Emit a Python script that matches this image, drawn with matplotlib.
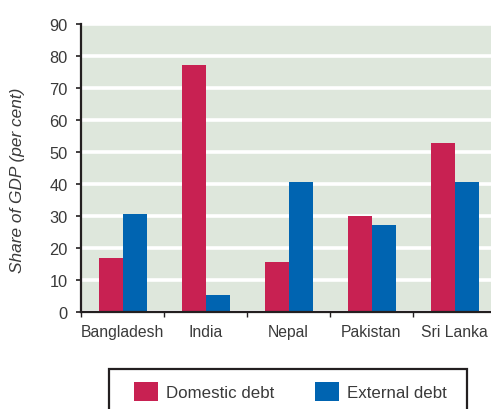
import matplotlib
matplotlib.use("Agg")
import matplotlib.pyplot as plt
from matplotlib.patches import Rectangle
import numpy as np

categories = ["Bangladesh", "India", "Nepal", "Pakistan", "Sri Lanka"]
domestic = [16.8, 77.0, 15.5, 29.9, 52.7]
external = [30.5, 5.2, 40.5, 27.1, 40.5]
yticks = [0, 10, 20, 30, 40, 50, 60, 70, 80, 90]
series_labels = ["Domestic debt", "External debt"]

plt.rcParams['font.family'] = ['Liberation Sans', 'DejaVu Sans']
txt = '#3a3a3a'
dom_c = '#C82152'
ext_c = '#0064B1'
bg = '#DEE7DC'

fig = plt.figure(figsize=(4.91, 4.10), dpi=100)
ax = fig.add_axes([81/491, 97.3/410, 415/491, 288.2/410])
ax.set_facecolor(bg)

x = np.arange(len(categories))
w = 24/83
b1 = ax.bar(x - w/2, domestic, w, color=dom_c, label=series_labels[0], zorder=3)
b2 = ax.bar(x + w/2, external, w, color=ext_c, label=series_labels[1], zorder=3)

ax.set_xlim(-0.5, len(categories) - 0.5)
ax.set_ylim(0, 90)
ax.set_yticks(yticks)
ax.set_yticklabels([str(v) for v in yticks])
ax.yaxis.grid(True, color='white', linewidth=2.6, zorder=1)
ax.set_axisbelow(True)

ax.set_xticks(x)
ax.set_xticklabels(categories)
ax.set_xticks(np.arange(len(categories) + 1) - 0.5, minor=True)
ax.tick_params(axis='x', which='major', length=0, pad=9, labelsize=11.3, labelcolor=txt)
ax.tick_params(axis='x', which='minor', length=3.5, width=1, color='#231F20', direction='out')
ax.tick_params(axis='y', length=3.5, width=1.2, color='#231F20', pad=6, labelsize=11.8, labelcolor=txt)

for s in ['top', 'right']:
    ax.spines[s].set_visible(False)
for s in ['left', 'bottom']:
    ax.spines[s].set_color('#231F20')
    ax.spines[s].set_linewidth(1.6)
ax.spines['left'].set_zorder(4)
ax.spines['bottom'].set_zorder(4)

fig.text(18/491, 1 - 180/410, "Share of GDP (per cent)", rotation=90, style='italic',
         fontsize=12.4, color=txt, ha='center', va='center')

# legend frame
fig.patches.append(Rectangle((109/491, -0.05), (467-109)/491, (410-370)/410 + 0.05,
                             transform=fig.transFigure, fill=False, edgecolor='#231F20',
                             linewidth=1.6))
leg = fig.legend(handles=[b1, b2], labels=series_labels, ncol=2, frameon=False,
                 loc='center', bbox_to_anchor=(290.5/491, 1 - 392.5/410),
                 fontsize=12.2, handlelength=1.4, handleheight=1.4,
                 handletextpad=0.5, columnspacing=2.4, labelcolor=txt,
                 borderpad=0, borderaxespad=0)

fig.savefig("out.png", dpi=100)
